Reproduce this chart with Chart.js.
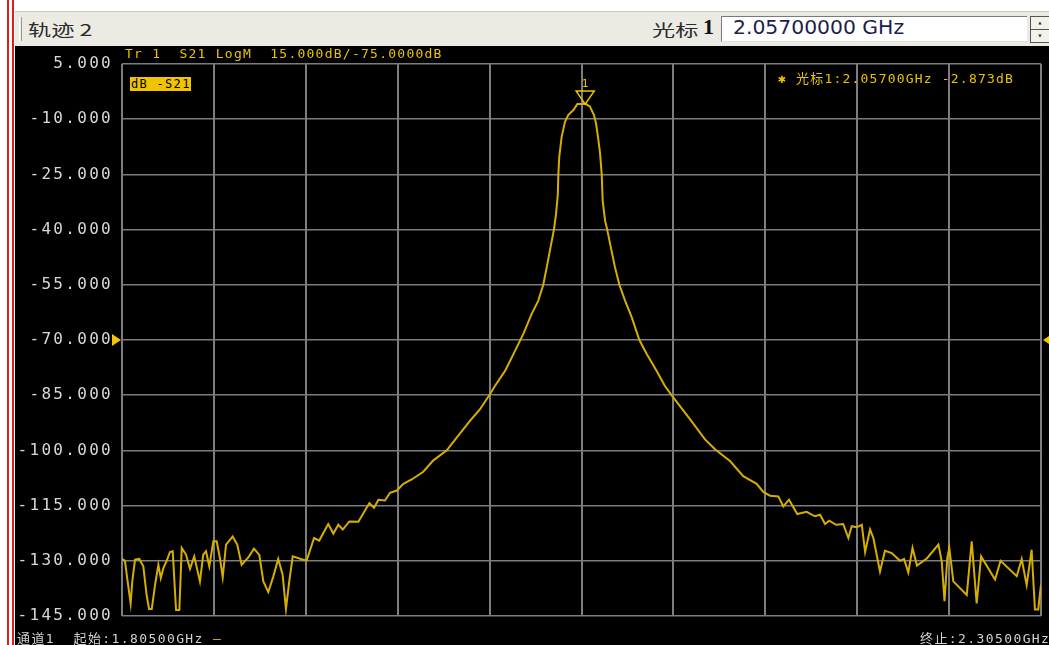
<!DOCTYPE html>
<html>
<head>
<meta charset="utf-8">
<script src="https://cdn.jsdelivr.net/npm/chart.js@4.4.1/dist/chart.umd.min.js"></script>
<style>
  body { margin: 0; width: 1049px; height: 645px; overflow: hidden; background: #fff; position: relative; font-family: 'DejaVu Sans Mono', monospace; }
  .abs { position: absolute; white-space: pre; }
  #redA { left: 7px; top: 0; width: 2px; height: 645px; background: #e51a1a; }
  #redB { left: 12px; top: 0; width: 2px; height: 645px; background: #e51a1a; }
  #bar { left: 15px; top: 11px; width: 1034px; height: 34px; background: #ecebe3; border-top: 1px solid #c9c7bd; }
  #sep { left: 19px; top: 17px; width: 1px; height: 24px; border-left: 1px solid #fff; border-right: 1px solid #9c9a90; }
  #screen { left: 15px; top: 46px; width: 1034px; height: 599px; background: #000; }
  #wrap { left: 0; top: 0; width: 1049px; height: 645px; }
  .cjk { font-family: 'Noto Sans CJK SC', sans-serif; }
  #trName { left: 28px; top: 17px; font-size: 16px; color: #2a2a2a; transform: scaleX(1.45); transform-origin: left; }
  #mkName { left: 652px; top: 17px; font-size: 16px; color: #2a2a2a; transform: scaleX(1.45); transform-origin: left; }
  #mkNum { left: 703px; top: 14px; font-family: 'Liberation Serif', serif; font-weight: bold; font-size: 22px; color: #111; }
  #box { left: 721px; top: 16px; width: 305px; height: 24px; background: #fff; border-top: 1px solid #7a7a7a; border-left: 1px solid #7a7a7a; border-bottom: 1px solid #e0e0e0; }
  #boxText { left: 733px; top: 16px; font-family: 'DejaVu Sans', sans-serif; font-size: 19px; color: #1c1f4a; transform: scaleX(1.07); transform-origin: left; }
  .spin { left: 1030px; width: 18px; height: 12px; background: #f2f1ec; border: 1px solid #555; font-size: 8px; line-height: 12px; text-align: center; color: #222; }
  #hdr { left: 125px; top: 46px; font-size: 13px; line-height: 16px; letter-spacing: 1.25px; color: #e8c400; }
  #tag { left: 130px; top: 77px; width: 61px; height: 14px; background: #f0c400; color: #000; font-size: 12px; line-height: 14px; letter-spacing: 1.3px; padding-left: 1px; box-sizing: border-box; }
  #mkRead { left: 778px; top: 70px; font-size: 13px; line-height: 16px; letter-spacing: 1.2px; color: #e8c400; }
  .foot { top: 630px; font-size: 13px; line-height: 16px; letter-spacing: 1.4px; color: #d2d2d2; }
</style>
</head>
<body>
<div class="abs" id="redA"></div>
<div class="abs" id="redB"></div>
<div class="abs" id="bar"></div>
<div class="abs" id="sep"></div>
<div class="abs cjk" id="trName">轨迹 2</div>
<div class="abs cjk" id="mkName">光标</div>
<div class="abs" id="mkNum">1</div>
<div class="abs" id="box"></div>
<div class="abs" id="boxText">2.05700000 GHz</div>
<div class="abs spin" style="top:16px">&#9652;</div>
<div class="abs spin" style="top:29px">&#9662;</div>
<div class="abs" id="screen"></div>
<div class="abs" id="wrap"><canvas id="chart" width="1049" height="645"></canvas></div>
<div class="abs" id="hdr">Tr 1  S21 LogM  15.000dB/-75.0000dB</div>
<div class="abs" id="tag">dB -S21</div>
<div class="abs" id="mkRead">✱ <span class="cjk">光标</span>1:2.05700GHz -2.873dB</div>
<div class="abs foot" style="left:17px"><span class="cjk">通道</span>1  <span class="cjk">起始</span>:1.80500GHz <span style="color:#e8c400">—</span></div>
<div class="abs foot" style="left:920px"><span class="cjk">终止</span>:2.30500GHz</div>

<script>
// Trace readings (frequency in GHz, S21 in dB)
const freqGHz = [
  1.8050, 1.8066, 1.8079, 1.8097, 1.8106, 1.8121, 1.8144, 1.8166, 1.8184, 1.8197,
  1.8212, 1.8230, 1.8248, 1.8261, 1.8275, 1.8293, 1.8311, 1.8326, 1.8344, 1.8362,
  1.8375, 1.8398, 1.8420, 1.8443, 1.8474, 1.8492, 1.8507, 1.8525, 1.8547, 1.8565,
  1.8583, 1.8598, 1.8616, 1.8652, 1.8677, 1.8701, 1.8737, 1.8768, 1.8797, 1.8819,
  1.8846, 1.8873, 1.8900, 1.8924, 1.8942, 1.8960, 1.8979, 1.9036, 1.9055, 1.9095,
  1.9123, 1.9172, 1.9200, 1.9227, 1.9251, 1.9287, 1.9336, 1.9396, 1.9421, 1.9445,
  1.9481, 1.9508, 1.9545, 1.9581, 1.9626, 1.9689, 1.9744, 1.9817, 1.9871, 1.9943,
  1.9998, 2.0048, 2.0079, 2.0134, 2.0179, 2.0233, 2.0279, 2.0315, 2.0342, 2.0361,
  2.0382, 2.0400, 2.0411, 2.0421, 2.0424, 2.0429, 2.0442, 2.0460, 2.0478, 2.0506,
  2.0527, 2.0575, 2.0596, 2.0618, 2.0629, 2.0642, 2.0651, 2.0660, 2.0665, 2.0678,
  2.0690, 2.0709, 2.0732, 2.0756, 2.0787, 2.0823, 2.0865, 2.0905, 2.0959, 2.1004,
  2.1049, 2.1140, 2.1222, 2.1276, 2.1358, 2.1430, 2.1503, 2.1539, 2.1576, 2.1621,
  2.1648, 2.1679, 2.1724, 2.1775, 2.1820, 2.1848, 2.1875, 2.1898, 2.1935, 2.1974,
  2.2002, 2.2020, 2.2047, 2.2075, 2.2093, 2.2120, 2.2138, 2.2174, 2.2201, 2.2238,
  2.2283, 2.2305, 2.2328, 2.2351, 2.2375, 2.2430, 2.2492, 2.2510, 2.2525, 2.2540,
  2.2551, 2.2573, 2.2646, 2.2673, 2.2700, 2.2724, 2.2800, 2.2830, 2.2918, 2.2945,
  2.2972, 2.2999, 2.3017, 2.3035, 2.3050
]
const s21dB = [
  -129.5, -130, -135, -141.6, -135.6, -129.7, -129.5, -131.5, -139.3, -143.1,
  -143.1, -136.5, -131.1, -134.7, -132, -130, -127.6, -127.4, -143.4, -143.4,
  -126.5, -128.3, -132.2, -128.8, -135.6, -128.3, -127.4, -131.5, -124.7, -124.7,
  -129.3, -134.5, -125.6, -123.4, -125.6, -131.1, -129.1, -126.7, -128.4, -135.6,
  -138.5, -134.3, -129.5, -133.8, -143.1, -135.6, -128.8, -129.7, -129.9, -123.8,
  -124.5, -120, -122.6, -120.2, -121.5, -119.3, -119.4, -114.3, -115.6, -113.4,
  -113.6, -111.5, -110.9, -109.1, -107.9, -105.8, -102.7, -100, -96.5, -92,
  -88.8, -85, -82.5, -78.4, -73.9, -68.4, -62.9, -59.3, -55, -50.2,
  -44.7, -40, -35.9, -30.6, -25, -20.2, -14.8, -10.7, -8.9, -7.5,
  -5.9, -5.9, -6.6, -8.9, -11.1, -15.7, -19.3, -25, -32, -37.5,
  -40, -44.7, -50.2, -55, -59.3, -63.8, -70, -73.8, -78.4, -82.5,
  -85.6, -91.5, -97, -99.7, -102.9, -107, -109.1, -111.3, -112.3, -112.5,
  -115.2, -113.4, -117.3, -116.7, -117.9, -117.5, -120, -119.1, -120.2, -120,
  -123.8, -120.6, -120.9, -120.2, -127.6, -121.5, -123.8, -132.9, -127.3, -127.9,
  -130, -129.5, -133.2, -126.5, -131.3, -129.3, -125.6, -130.2, -141, -129.3,
  -126.5, -135.6, -139.3, -124.7, -141.6, -128.8, -135.1, -130, -134.2, -129.5,
  -136.6, -127, -143.2, -143.2, -136.5
]

// Axis divisions
const xGridTicks = [1.805, 1.855, 1.905, 1.955, 2.005, 2.055, 2.105, 2.155, 2.205, 2.255, 2.305]
const yTicks = [5, -10, -25, -40, -55, -70, -85, -100, -115, -130, -145]

// Marker 1 and reference level
const markerFreq = 2.057
const markerDb = -5.9
const refLevel = -70

const traceColor = '#d6ae00'
const gridColor = '#7d7d7d'

// Draws the marker triangle and the reference level arrows
const markerPlugin = {
  id: 'marker',
  beforeDraw(chart) {
    chart.ctx.letterSpacing = '2.3px'
  },
  afterDatasetsDraw(chart) {
    const ctx = chart.ctx
    const xs = chart.scales.x
    const ys = chart.scales.y
    const mx = xs.getPixelForValue(markerFreq)
    const my = ys.getPixelForValue(markerDb)
    ctx.save()
    ctx.strokeStyle = '#f0c800'
    ctx.lineWidth = 1.5
    ctx.beginPath()
    ctx.moveTo(mx - 9, my - 13)
    ctx.lineTo(mx + 9, my - 13)
    ctx.lineTo(mx, my)
    ctx.closePath()
    ctx.stroke()
    ctx.letterSpacing = '0px'
    ctx.fillStyle = '#f0c800'
    ctx.font = '11px "DejaVu Sans Mono"'
    ctx.textAlign = 'center'
    ctx.textBaseline = 'bottom'
    ctx.fillText('1', mx, my - 14)

    const ry = ys.getPixelForValue(refLevel)
    const left = chart.chartArea.left
    const right = chart.chartArea.right
    ctx.fillStyle = '#f5c400'
    ctx.beginPath()
    ctx.moveTo(left - 10, ry - 6)
    ctx.lineTo(left - 1, ry)
    ctx.lineTo(left - 10, ry + 6)
    ctx.closePath()
    ctx.fill()
    ctx.beginPath()
    ctx.moveTo(right + 2, ry)
    ctx.lineTo(right + 11, ry - 6)
    ctx.lineTo(right + 11, ry + 6)
    ctx.closePath()
    ctx.fill()
    ctx.restore()
  },
  afterDraw(chart) {
    chart.ctx.letterSpacing = '0px'
  }
}

const ctx = document.getElementById('chart').getContext('2d')
new Chart(ctx, {
  type: 'line',
  data: {
    datasets: [
      {
        label: 'S21',
        data: freqGHz.map((f, i) => ({ x: f, y: s21dB[i] })),
        borderColor: traceColor,
        borderWidth: 2,
        pointRadius: 0,
        tension: 0
      }
    ]
  },
  options: {
    responsive: false,
    animation: false,
    layout: {
      padding: { left: 0, right: 8, top: 64, bottom: 29 }
    },
    plugins: {
      legend: { display: false },
      tooltip: { enabled: false }
    },
    scales: {
      x: {
        type: 'linear',
        min: 1.805,
        max: 2.305,
        afterBuildTicks: (scale) => {
          scale.ticks = xGridTicks.map(v => ({ value: v }))
        },
        afterFit: (scale) => {
          scale.height = 0
        },
        ticks: { display: false },
        grid: { color: gridColor, lineWidth: 2, drawTicks: false },
        border: { display: false }
      },
      y: {
        min: -145,
        max: 5,
        afterBuildTicks: (scale) => {
          scale.ticks = yTicks.map(v => ({ value: v }))
        },
        afterFit: (scale) => {
          scale.width = 122
        },
        ticks: {
          color: '#d8d8d8',
          padding: 9,
          font: { family: 'DejaVu Sans Mono', size: 16 },
          callback: (v) => Number(v).toFixed(3)
        },
        grid: { color: gridColor, lineWidth: 1.6, drawTicks: false },
        border: { display: false }
      }
    }
  },
  plugins: [markerPlugin]
})
</script>
</body>
</html>
